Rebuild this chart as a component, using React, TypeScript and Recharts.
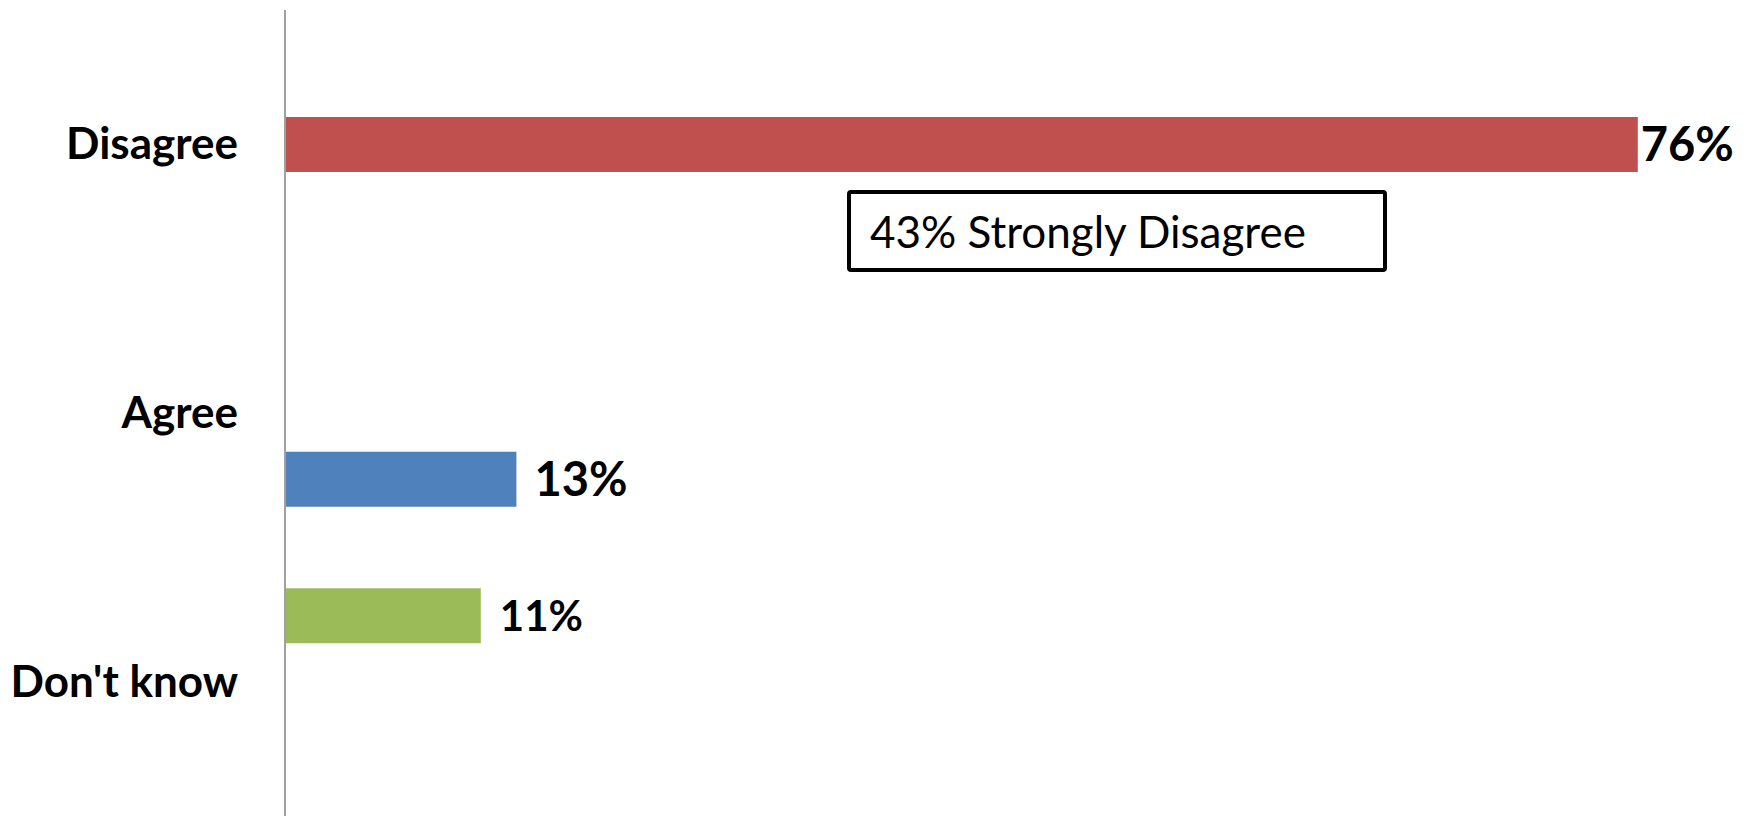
import { BarChart, Bar, XAxis, YAxis, LabelList } from 'recharts'

const categories = ['Disagree', 'Agree', "Don't know"]
const disagreeValues = [76, null, null]
const agreeValues = [null, 13, null]
const dontKnowValues = [null, null, 11]
const noteText = '43% Strongly Disagree'

const chartData = categories.map((name, i) => ({
  name,
  disagree: disagreeValues[i],
  agree: agreeValues[i],
  dontKnow: dontKnowValues[i],
}))

const FONT = 'Lato, "Open Sans", sans-serif'

const pct = (v: any) => (v == null ? '' : `${v}%`)

function CategoryTick({ x, y, payload }: any) {
  return (
    <text
      x={x}
      y={y}
      dy={15}
      textAnchor="end"
      fontFamily={FONT}
      fontWeight={700}
      fontSize={44}
      fill="#000"
    >
      {payload.value}
    </text>
  )
}

export default function App() {
  return (
    <div style={{ position: 'absolute', left: 0, top: 0, width: 1752, height: 816, background: '#fff' }}>
      <BarChart
        width={1752}
        height={816}
        data={chartData}
        layout="vertical"
        margin={{ top: 10, right: 43, bottom: 0, left: 0 }}
        barSize={55}
        barGap={11}
      >
        <XAxis type="number" domain={[0, 80]} hide />
        <YAxis
          type="category"
          dataKey="name"
          width={285}
          tickSize={0}
          tickMargin={47}
          tickLine={false}
          axisLine={{ stroke: '#A0A0A0', strokeWidth: 2 }}
          tick={<CategoryTick />}
        />
        <Bar dataKey="dontKnow" fill="#9BBB59" isAnimationActive={false}>
          <LabelList
            dataKey="dontKnow"
            position="right"
            offset={19}
            formatter={pct}
            style={{ fontFamily: FONT, fontWeight: 700, fontSize: 42, fill: '#000' }}
          />
        </Bar>
        <Bar dataKey="disagree" fill="#C0504D" isAnimationActive={false}>
          <LabelList
            dataKey="disagree"
            position="right"
            offset={3}
            formatter={pct}
            style={{ fontFamily: FONT, fontWeight: 700, fontSize: 47, fill: '#000' }}
          />
        </Bar>
        <Bar dataKey="agree" fill="#4F81BD" isAnimationActive={false}>
          <LabelList
            dataKey="agree"
            position="right"
            offset={18}
            formatter={pct}
            style={{ fontFamily: FONT, fontWeight: 700, fontSize: 47, fill: '#000' }}
          />
        </Bar>
      </BarChart>
      <div
        style={{
          position: 'absolute',
          left: 847,
          top: 190,
          width: 540,
          height: 82,
          boxSizing: 'border-box',
          border: '4px solid #000',
          borderRadius: 4,
          paddingLeft: 19,
          fontFamily: FONT,
          fontSize: 44,
          lineHeight: '74px',
          color: '#000',
          whiteSpace: 'nowrap',
        }}
      >
        {noteText}
      </div>
    </div>
  )
}
